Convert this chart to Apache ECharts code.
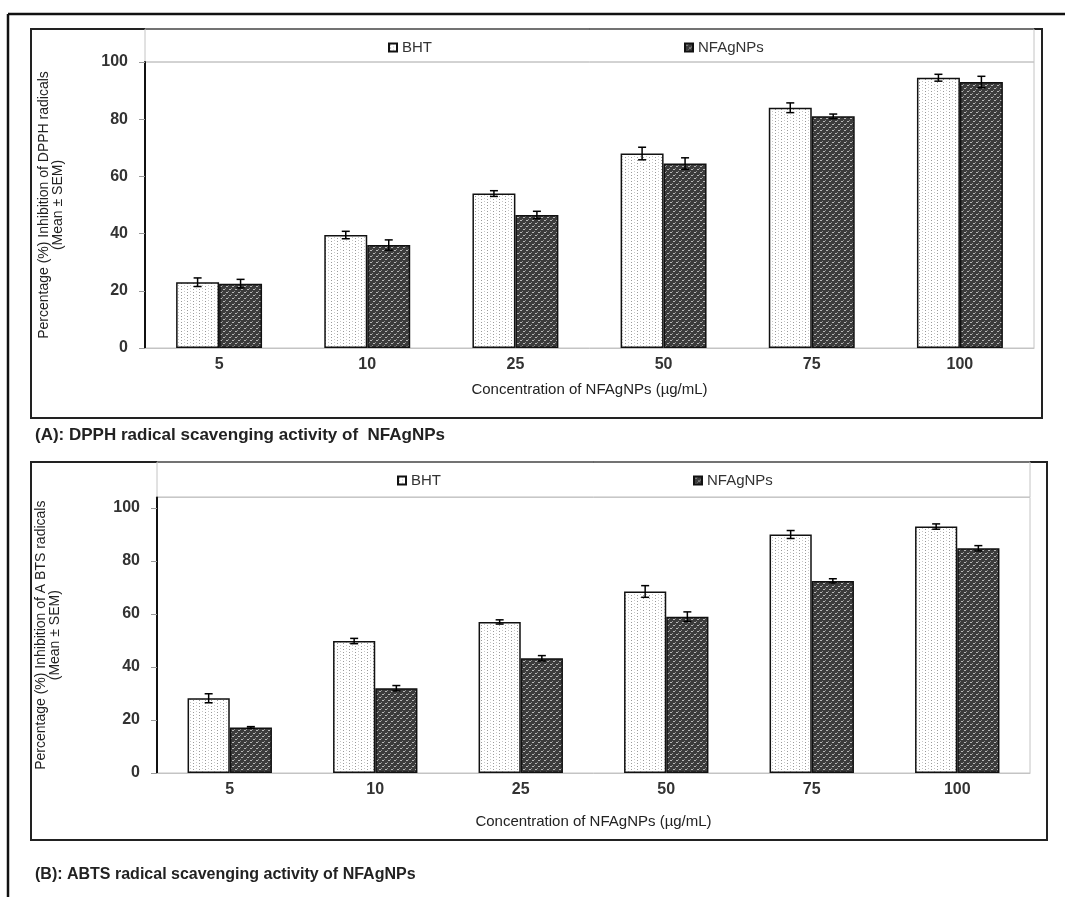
<!DOCTYPE html>
<html>
<head>
<meta charset="utf-8">
<script src="https://cdn.jsdelivr.net/npm/echarts@6/dist/echarts.min.js"></script>
<style>
html,body{margin:0;padding:0;background:#fff;}
#chart{width:1065px;height:897px;}
</style>
</head>
<body>
<div id="chart"></div>
<script>
// ---- data ----
const categories = ['5', '10', '25', '50', '75', '100'];
const dpphBHT    = [23, 39.5, 54, 68, 84, 94.5];
const dpphBHTErr = [1.5, 1.3, 1.0, 2.2, 1.7, 1.2];
const dpphNF     = [22.5, 36, 46.5, 64.5, 81, 93];
const dpphNFErr  = [1.5, 1.8, 1.3, 2.0, 0.8, 2.0];
const abtsBHT    = [28.2, 49.8, 57, 68.5, 90, 93];
const abtsBHTErr = [1.7, 1.0, 0.8, 2.2, 1.5, 1.0];
const abtsNF     = [17.2, 32, 43.3, 59, 72.5, 84.8];
const abtsNFErr  = [0.3, 1.0, 1.0, 1.8, 0.8, 1.0];
const yTicks = [0, 20, 40, 60, 80, 100];
const seriesNames = ['BHT', 'NFAgNPs'];
const xTitle = 'Concentration of NFAgNPs (µg/mL)';
const yTitleA = 'Percentage (%) Inhibition of DPPH radicals\n(Mean ± SEM)';
const yTitleB = 'Percentage (%) Inhibition of A BTS radicals\n(Mean ± SEM)';
const captionA = '(A): DPPH radical scavenging activity of  NFAgNPs';
const captionB = '(B): ABTS radical scavenging activity of NFAgNPs';

// ---- patterns ----
function makeBHTPattern() {
  const c = document.createElement('canvas');
  c.width = 6; c.height = 3;
  const g = c.getContext('2d');
  g.fillStyle = '#ffffff'; g.fillRect(0, 0, 6, 3);
  g.fillStyle = '#9a9a9a'; g.fillRect(1, 1, 1, 1);
  g.fillStyle = '#c8c8c8'; g.fillRect(4, 0, 1, 1);
  return c;
}
function makeNFPattern() {
  const c = document.createElement('canvas');
  c.width = 6; c.height = 6;
  const g = c.getContext('2d');
  g.fillStyle = '#3c3c3c'; g.fillRect(0, 0, 6, 6);
  g.fillStyle = '#b8b8b8';
  g.fillRect(1, 1, 2, 1); g.fillRect(4, 4, 2, 1);
  g.fillStyle = '#8a8a8a';
  g.fillRect(0, 3, 1, 1); g.fillRect(3, 0, 1, 1);
  return c;
}
const bhtFill = { image: makeBHTPattern(), repeat: 'repeat' };
const nfFill = { image: makeNFPattern(), repeat: 'repeat' };

const BAR_W = 0.29;
const FONT = '"Liberation Sans", Arial, sans-serif';
const NARROW = '"Liberation Sans Narrow", "Liberation Sans", Arial, sans-serif';

function errSeries(gridIdx, values, errs, side) {
  return {
    type: 'custom',
    xAxisIndex: gridIdx, yAxisIndex: gridIdx,
    z: 10, silent: true,
    data: values.map((v, i) => [i, v, errs[i]]),
    encode: { x: 0, y: 1 },
    renderItem: function (params, api) {
      const x = api.value(0), y = api.value(1), e = api.value(2);
      const band = api.size([1, 0])[0];
      const off = band * BAR_W / 2 * side;
      const t = api.coord([x, y + e]);
      const b = api.coord([x, y - e]);
      const cx = t[0] + off;
      const cap = 4;
      const st = { stroke: '#000', lineWidth: 1.5 };
      return {
        type: 'group',
        children: [
          { type: 'line', shape: { x1: cx, y1: t[1], x2: cx, y2: b[1] }, style: st },
          { type: 'line', shape: { x1: cx - cap, y1: t[1], x2: cx + cap, y2: t[1] }, style: st },
          { type: 'line', shape: { x1: cx - cap, y1: b[1], x2: cx + cap, y2: b[1] }, style: st }
        ]
      };
    }
  };
}

function barSeries(gridIdx, name, values, fill) {
  return {
    type: 'bar', name: name,
    xAxisIndex: gridIdx, yAxisIndex: gridIdx,
    data: values, barWidth: (BAR_W * 100) + '%', barGap: '0%',
    itemStyle: { color: fill, borderColor: '#111', borderWidth: 1.5 },
    emphasis: { disabled: true }
  };
}

function xAxis(gridIdx, nameGap) {
  return {
    type: 'category', gridIndex: gridIdx, data: categories,
    axisLine: { lineStyle: { color: '#c4c4c4', width: 1 } },
    axisTick: { show: false },
    axisLabel: { color: '#333', fontSize: 16, fontWeight: 'bold', fontFamily: FONT, margin: 9 },
    name: xTitle, nameLocation: 'middle', nameGap: nameGap,
    nameTextStyle: { color: '#222', fontSize: 15, fontFamily: FONT }
  };
}
function yAxis(gridIdx, max, name, nameGap) {
  return {
    type: 'value', gridIndex: gridIdx, min: 0, max: max, interval: 20,
    axisLine: { show: true, lineStyle: { color: '#111', width: 2 } },
    axisTick: { show: true, length: 6, lineStyle: { color: '#999' } },
    splitLine: { show: false },
    axisLabel: { color: '#333', fontSize: 16, fontWeight: 'bold', fontFamily: FONT, margin: 17,
                 showMaxLabel: max === 100,
                 formatter: v => (yTicks.indexOf(v) >= 0 ? String(v) : '') },
    name: name, nameLocation: 'middle', nameRotate: 90, nameGap: nameGap,
    nameTextStyle: { color: '#222', fontSize: 14, fontFamily: NARROW, lineHeight: 14 }
  };
}

const chart = echarts.init(document.getElementById('chart'), null, { renderer: 'canvas' });
chart.setOption({
  animation: false,
  backgroundColor: '#fff',
  grid: [
    { left: 145, right: 31, top: 62, bottom: 549, show: true, borderColor: '#c4c4c4', borderWidth: 1 },
    { left: 157, right: 35, top: 497.4, bottom: 124, show: true, borderColor: '#c4c4c4', borderWidth: 1 }
  ],
  legend: [
    { data: seriesNames, left: 383, top: 35, itemGap: 252, icon: 'rect', itemWidth: 8, itemHeight: 8,
      textStyle: { color: '#333', fontSize: 15, fontFamily: FONT }, selectedMode: false },
    { data: seriesNames, left: 392, top: 468, itemGap: 252, icon: 'rect', itemWidth: 8, itemHeight: 8,
      textStyle: { color: '#333', fontSize: 15, fontFamily: FONT }, selectedMode: false }
  ],
  title: [
    { text: captionA, left: 30, top: 422, textStyle: { color: '#222', fontSize: 17, fontWeight: 'bold', fontFamily: FONT } },
    { text: captionB, left: 30, top: 862, textStyle: { color: '#222', fontSize: 16, fontWeight: 'bold', fontFamily: NARROW } }
  ],
  xAxis: [xAxis(0, 34), xAxis(1, 41)],
  yAxis: [yAxis(0, 100, yTitleA, 80), yAxis(1, 104, yTitleB, 95)],
  series: [
    barSeries(0, 'BHT', dpphBHT, bhtFill),
    barSeries(0, 'NFAgNPs', dpphNF, nfFill),
    errSeries(0, dpphBHT, dpphBHTErr, -1),
    errSeries(0, dpphNF, dpphNFErr, 1),
    barSeries(1, 'BHT', abtsBHT, bhtFill),
    barSeries(1, 'NFAgNPs', abtsNF, nfFill),
    errSeries(1, abtsBHT, abtsBHTErr, -1),
    errSeries(1, abtsNF, abtsNFErr, 1)
  ],
  graphic: [
    { type: 'line', shape: { x1: 8, y1: 14, x2: 1065, y2: 14 }, style: { stroke: '#111', lineWidth: 2.5 } },
    { type: 'line', shape: { x1: 8, y1: 14, x2: 8, y2: 897 }, style: { stroke: '#111', lineWidth: 2.5 } },
    { type: 'rect', shape: { x: 31, y: 29, width: 1011, height: 389 }, style: { fill: 'none', stroke: '#222', lineWidth: 2 } },
    { type: 'rect', shape: { x: 145, y: 29, width: 889, height: 33 }, style: { fill: 'none', stroke: '#c4c4c4', lineWidth: 1 } },
    { type: 'rect', shape: { x: 31, y: 462, width: 1016, height: 378 }, style: { fill: 'none', stroke: '#222', lineWidth: 2 } },
    { type: 'rect', shape: { x: 157, y: 462, width: 873, height: 35 }, style: { fill: 'none', stroke: '#c4c4c4', lineWidth: 1 } }
  ]
});
</script>
</body>
</html>
